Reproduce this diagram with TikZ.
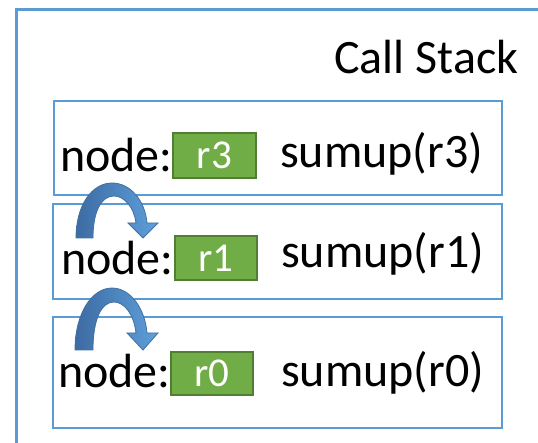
\documentclass[tikz,border=0pt]{standalone}
\usepackage{fontspec}
\setmainfont{Carlito}
\definecolor{frameblue}{HTML}{5B9BD5}
\definecolor{gfill}{HTML}{70AD47}
\definecolor{gborder}{HTML}{507E32}
\definecolor{adark}{HTML}{3D6BA3}
\definecolor{alight}{HTML}{5E9FDB}
\definecolor{aedge}{HTML}{41719C}
\begin{document}
\begin{tikzpicture}[x=1pt,y=-1pt,
  frame/.style={draw=frameblue, line width=2.8pt, inner sep=0pt, outer sep=0pt, rectangle},
  lab/.style={anchor=base west, inner sep=0pt, font=\fontsize{48}{50}\selectfont},
  gbox/.style={draw=gborder, fill=gfill, line width=1.4pt, inner sep=0pt, rectangle, text=white, font=\fontsize{41}{44}\selectfont},
  barrow/.style={left color=adark, right color=alight, draw=aedge, line width=0.8pt}]
\useasboundingbox (0,0) rectangle (538,443);
\begin{scope}
  \clip (0,0) rectangle (538,443);
  \draw[frameblue, line width=3pt] (16,470) -- (16,10) -- (570,10);
\end{scope}
\node[lab] (title) at (334,74) {Call Stack};
% frames
\node[frame, minimum width=448, minimum height=94] (f1) at (278,148) {};
\node[frame, minimum width=449, minimum height=95] (f2) at (277.5,251.5) {};
\node[frame, minimum width=449, minimum height=111] (f3) at (277.5,372.5) {};
% green boxes
\node[gbox, minimum width=83, minimum height=45] (g3) at (214.5,155.5) {r3};
\node[gbox, minimum width=82, minimum height=44] (g1) at (216,258) {r1};
\node[gbox, minimum width=82, minimum height=43] (g0) at (212,373.5) {r0};
% labels
\node[lab] (n3) at (60,172) {node:};
\node[lab] (n1) at (61,275) {node:};
\node[lab] (n0) at (58,388) {node:};
\node[lab] (s3) at (280,168) {sumup(r3)};
\node[lab] (s1) at (281,268) {sumup(r1)};
\node[lab] (s0) at (281,387) {sumup(r0)};
% curved block arrows
\path[barrow] (76,238) .. controls (76,205) and (92,183) .. (112,183)
  .. controls (130,183) and (145,200) .. (147,223) -- (158,223) -- (143,238) -- (128,223) -- (136,223)
  .. controls (134,207) and (124,196) .. (114,196) .. controls (101,196) and (93,212) .. (93,238) -- cycle;
\path[barrow] (75,350) .. controls (75,313) and (92,288) .. (112,288)
  .. controls (130,288) and (145,308) .. (147,333) -- (158,333) -- (143,350) -- (127,333) -- (136,333)
  .. controls (134,314) and (124,302) .. (114,302) .. controls (101,302) and (93,320) .. (93,350) -- cycle;
\end{tikzpicture}
\end{document}
